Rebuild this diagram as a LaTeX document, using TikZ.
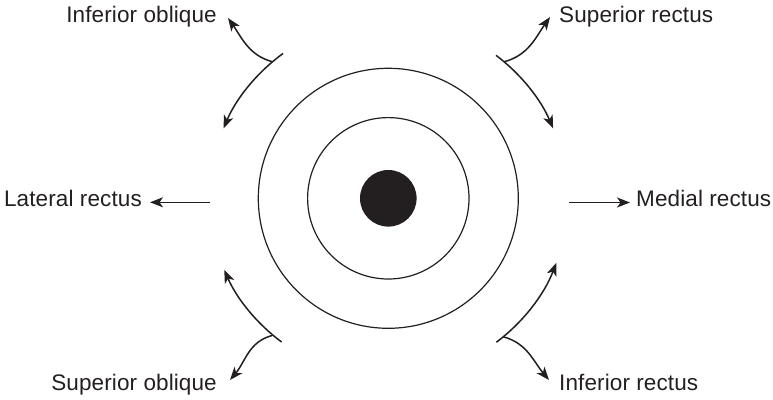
\documentclass[tikz,border=0pt]{standalone}
\usepackage{fontspec}
\setmainfont{Liberation Sans}[LetterSpace=0.5]
\usetikzlibrary{arrows.meta}
\definecolor{ink}{RGB}{35,31,32}
\tikzset{
  lbl/.style={font=\fontsize{22.5}{26}\selectfont, text=ink, inner sep=0pt},
  ring/.style={draw=ink, line width=1.2pt},
  conn/.style={draw=ink, line width=1.5pt, -{Stealth[length=13pt,width=10pt,inset=3.5pt]}}
}
\begin{document}
\begin{tikzpicture}[x=1pt,y=1pt]
\useasboundingbox (0,0) rectangle (773,399);
% eye
\coordinate (c) at (388.3,200.7);
\draw[ring] (c) circle[radius=130];
\draw[ring] (c) circle[radius=80.7];
\fill[ink] (c) circle[radius=28.3];
% labels
\node[lbl, anchor=base east] (io) at (217,376.3) {Inferior oblique};
\node[lbl, anchor=base west] (sr) at (559,376.3) {Superior rectus};
\node[lbl, anchor=base east] (lr) at (142,192.3) {Lateral rectus};
\node[lbl, anchor=base west] (mr) at (636,192.3) {Medial rectus};
\node[lbl, anchor=base east] (so) at (217,9) {Superior oblique};
\node[lbl, anchor=base west] (ir) at (559,9) {Inferior rectus};
% tips
\coordinate (ioT) at (228,381);
\coordinate (srT) at (550,382);
\coordinate (soT) at (230,19);
\coordinate (irT) at (549,19);
% horizontal arrows
\coordinate (lrS) at (210,196.7);
\coordinate (lrT) at (150,196.7);
\coordinate (mrS) at (569,196.5);
\coordinate (mrT) at (630,196.5);
\draw[conn] (lrS) -- (lrT);
\draw[conn] (mrS) -- (mrT);
% upper-left bracket
\draw[conn] (c) ++(126:179) arc[start angle=126, end angle=157, radius=179];
\path (c) ++(130.3:179) coordinate (jul);
\draw[conn] (jul) to[out=165, in=-55] (ioT);
% upper-right bracket
\draw[conn] (c) ++(53:179) arc[start angle=53, end angle=23, radius=179];
\path (c) ++(49.7:179) coordinate (jur);
\draw[conn] (jur) to[out=15, in=-125] (srT);
% lower-left bracket
\draw[conn] (c) ++(233.4:179) arc[start angle=233.4, end angle=203.6, radius=179];
\path (c) ++(229.7:180) coordinate (jll);
\draw[conn] (jll) to[out=195, in=50] (soT);
% lower-right bracket
\draw[conn] (c) ++(-53.1:180) arc[start angle=-53.1, end angle=-21, radius=180];
\path (c) ++(-50.3:180) coordinate (jlr);
\draw[conn] (jlr) to[out=-15, in=130] (irT);
\end{tikzpicture}
\end{document}
